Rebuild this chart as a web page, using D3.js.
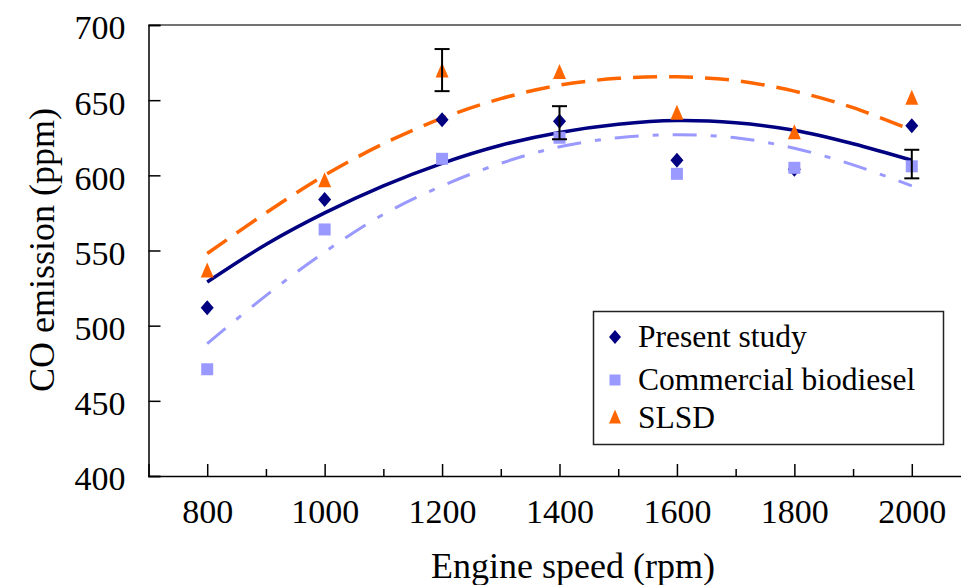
<!DOCTYPE html>
<html>
<head>
<meta charset="utf-8">
<script src="https://cdn.jsdelivr.net/npm/d3@7"></script>
<style>
  html, body { margin: 0; padding: 0; background: #fff; }
  svg { display: block; }
  text { font-family: "Liberation Serif", "Times New Roman", serif; fill: #000; }
</style>
</head>
<body>
<svg id="chart" width="961" height="585"></svg>
<script>
// ---- data ----
const speeds = [800, 1000, 1200, 1400, 1600, 1800, 2000];
const presentStudy = [512, 584, 637, 636, 610, 604, 633];
const commercialBiodiesel = [471, 564, 611, 625, 601, 605, 606];
const slsd = [536, 596, 669, 668, 641, 628, 651];

// error bars (low, high) per point; null = none
const presentErr = [null, null, null, [624, 646], null, null, null];
const commercialErr = [null, null, null, null, null, null, [598, 617]];
const slsdErr = [null, null, [656, 684], null, null, null, null];

// trend curves
const trendSpeeds = [800, 900, 1000, 1100, 1200, 1300, 1400, 1500, 1600, 1700, 1800, 1900, 2000];
const presentTrend = [529, 554, 575, 593, 608, 620, 628.5, 634, 636.5, 635, 630, 621, 610];
const commercialTrend = [488, 520, 549, 574, 593, 608, 619, 625, 627, 625, 618, 607, 593];
const slsdTrend = [548, 575, 600, 621, 638, 651, 660, 664.5, 665.5, 663, 656, 645, 630];

const xMajorTicks = [800, 1000, 1200, 1400, 1600, 1800, 2000];
const xMinorTicks = [900, 1100, 1300, 1500, 1700, 1900];
const yTicks = [400, 450, 500, 550, 600, 650, 700];

const seriesNames = ["Present study", "Commercial biodiesel", "SLSD"];
const colors = ["#000080", "#9999FF", "#FF6600"];

// ---- layout ----
const svg = d3.select("#chart");
const x = d3.scaleLinear().domain([700, 2100]).range([148.5, 970.5]);
const y = d3.scaleLinear().domain([400, 700]).range([476, 25]);

// plot frame (top border; left and bottom axes)
svg.append("line").attr("x1", x(700)).attr("x2", x(2100)).attr("y1", y(700)).attr("y2", y(700))
  .attr("stroke", "#444").attr("stroke-width", 1.5);
svg.append("line").attr("x1", x(2100)).attr("x2", x(2100)).attr("y1", y(700)).attr("y2", y(400))
  .attr("stroke", "#444").attr("stroke-width", 1.5);

// x axis
const xAxis = svg.append("g").attr("transform", `translate(0,${y(400)})`)
  .call(d3.axisBottom(x).tickValues(xMajorTicks).tickSize(-12).tickPadding(23).tickFormat(d3.format("d")));
xAxis.select(".domain").attr("stroke", "#000").attr("stroke-width", 1.5);
xAxis.selectAll(".tick line").attr("stroke", "#000").attr("stroke-width", 1.5);
xAxis.selectAll("text").style("font-family", '"Liberation Serif", serif').style("font-size", "34px").attr("fill", "#000");
svg.append("g").attr("transform", `translate(0,${y(400)})`)
  .call(d3.axisBottom(x).tickValues(xMinorTicks).tickSize(-7).tickFormat(""))
  .call(g => g.select(".domain").remove())
  .call(g => g.selectAll(".tick line").attr("stroke", "#000").attr("stroke-width", 1.5));

// y axis
const yAxis = svg.append("g").attr("transform", `translate(${x(700)},0)`)
  .call(d3.axisLeft(y).tickValues(yTicks).tickSize(-12).tickPadding(23).tickFormat(d3.format("d")));
yAxis.select(".domain").attr("stroke", "#000").attr("stroke-width", 1.5);
yAxis.selectAll(".tick line").attr("stroke", "#000").attr("stroke-width", 1.5);
yAxis.selectAll("text").style("font-family", '"Liberation Serif", serif').style("font-size", "34px")
  .attr("fill", "#000").attr("dy", "0.41em");

// axis titles
svg.append("text").attr("x", 573).attr("y", 578).attr("text-anchor", "middle")
  .style("font-size", "36px").text("Engine speed (rpm)");
svg.append("text").attr("transform", "translate(54,250) rotate(-90)").attr("text-anchor", "middle")
  .style("font-size", "36px").text("CO emission (ppm)");

// ---- trend lines ----
const line = d3.line().x(d => x(d[0])).y(d => y(d[1])).curve(d3.curveCatmullRom.alpha(0.5));
const trends = [presentTrend, commercialTrend, slsdTrend];
const dashes = [null, "24,14,6,14", "24,12"];
const widths = [3.5, 3, 3.5];
[1, 2, 0].forEach(i => {
  svg.append("path")
    .datum(trendSpeeds.map((s, j) => [s, trends[i][j]]))
    .attr("d", line)
    .attr("fill", "none")
    .attr("stroke", colors[i])
    .attr("stroke-width", widths[i])
    .attr("stroke-dasharray", dashes[i]);
});

// ---- markers ----
const diamond = (w, h) => `M0,${-h/2}L${w/2},0L0,${h/2}L${-w/2},0Z`;
const square = s => `M${-s/2},${-s/2}h${s}v${s}h${-s}Z`;
const triangle = (w, h) => `M0,${-h*0.6}L${w/2},${h*0.4}L${-w/2},${h*0.4}Z`;
const shapes = [diamond(13, 15), square(12), triangle(13, 15)];
const values = [presentStudy, commercialBiodiesel, slsd];
values.forEach((vals, i) => {
  svg.append("g").selectAll("path").data(vals.map((v, j) => [speeds[j], v])).join("path")
    .attr("transform", d => `translate(${x(d[0])},${y(d[1])})`)
    .attr("d", shapes[i])
    .attr("fill", colors[i]);
});

// ---- error bars ----
const errs = [presentErr, commercialErr, slsdErr];
errs.forEach(arr => {
  arr.forEach((e, j) => {
    if (!e) return;
    const cx = x(speeds[j]);
    const g = svg.append("g").attr("stroke", "#000").attr("stroke-width", 2);
    g.append("line").attr("x1", cx).attr("x2", cx).attr("y1", y(e[0])).attr("y2", y(e[1]));
    g.append("line").attr("x1", cx - 7.5).attr("x2", cx + 7.5).attr("y1", y(e[0])).attr("y2", y(e[0]));
    g.append("line").attr("x1", cx - 7.5).attr("x2", cx + 7.5).attr("y1", y(e[1])).attr("y2", y(e[1]));
  });
});

// ---- legend ----
const lg = svg.append("g");
lg.append("rect").attr("x", 593.5).attr("y", 311.5).attr("width", 350).attr("height", 133)
  .attr("fill", "#fff").attr("stroke", "#222").attr("stroke-width", 1.5);
const legendY = [337, 380, 418];
const legendShapes = [diamond(12, 14), square(11), triangle(12, 14)];
seriesNames.forEach((name, i) => {
  lg.append("path").attr("transform", `translate(615,${legendY[i]})`).attr("d", legendShapes[i]).attr("fill", colors[i]);
  lg.append("text").attr("x", 638).attr("y", legendY[i] + 10).style("font-size", "31.5px").text(name);
});
</script>
</body>
</html>
